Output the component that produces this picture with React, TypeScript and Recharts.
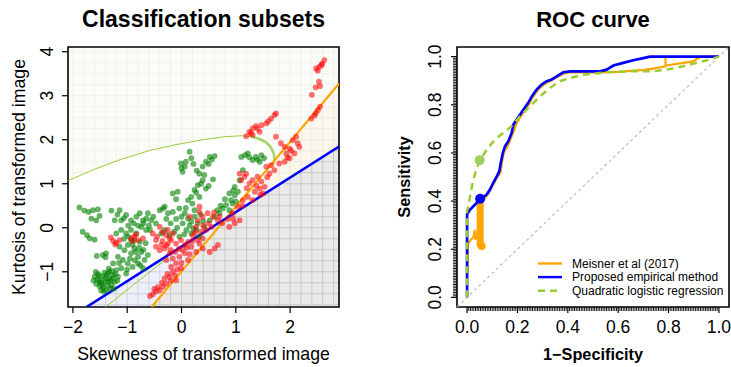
import React from 'react';
import {
  ComposedChart,
  XAxis,
  YAxis,
  Area,
  Line,
  Scatter,
  ReferenceArea,
} from 'recharts';

const FONT = '"Liberation Sans", Arial, Helvetica, sans-serif';

// ---------- left panel: classification subsets ----------
const skewDomain: [number, number] = [-2.09, 2.9];
const kurtDomain: [number, number] = [-1.8, 4.107];
const skewTicks = [-2, -1, 0, 1, 2];
const kurtTicks = [-1, 0, 1, 2, 3, 4];
const gridSkew = Array.from({ length: 25 }, (_, i) => -2 + i * 0.2);
const gridKurt = Array.from({ length: 24 }, (_, i) => -1.75 + i * 0.25);

// [skewness, kurtosis]
const greenPoints: [number, number][] = [
  [-1.88, 0.46], [-1.79, 0.39], [-1.71, 0.36], [-1.63, 0.4], [-1.54, 0.42], [-1.66, 0.21], [-1.57, 0.17], [-1.51, 0.27],
  [-1.82, -0.09], [-1.74, -0.17], [-1.69, -0.24], [-1.6, -0.27], [-1.56, -0.64], [-1.45, -0.62], [-1.4, -0.67], [-1.39, -0.58],
  [-1.6, -1.11], [-1.54, -1.05], [-1.51, -1.19], [-1.45, -1.11], [-1.4, -1.23], [-1.36, -1.04], [-1.33, -1.15], [-1.29, -1.3],
  [-1.26, -1.08], [-1.23, -1.23], [-1.51, -1.33], [-1.44, -1.36], [-1.39, -1.42], [-1.33, -1.0], [-1.2, -0.96], [-1.17, -1.11],
  [-1.57, -1.27], [-1.48, -1.42], [-1.47, -1.25], [-1.36, -1.32], [-1.3, -1.2], [-1.42, -1.02], [-1.55, -1.17], [-1.25, -1.38],
  [-1.62, -1.2], [-1.58, -1.0], [-1.52, -1.08], [-1.46, -1.3], [-1.41, -1.15], [-1.35, -1.22], [-1.31, -1.38], [-1.27, -1.15],
  [-1.22, -1.05], [-1.18, -1.2], [-1.43, -1.45], [-1.5, -1.24], [-1.38, -1.08], [-1.34, -0.93], [-1.28, -0.98],
  [-1.29, 0.39], [-1.14, 0.4], [-1.23, 0.17], [-1.11, 0.17], [-1.02, 0.29], [-0.93, 0.17], [-0.83, 0.25], [-0.77, 0.33],
  [-0.71, 0.17], [-0.65, 0.21], [-0.56, 0.17], [-0.47, 0.1], [-1.2, -0.13], [-1.11, -0.05], [-1.02, -0.13], [-0.93, -0.05],
  [-0.83, -0.13], [-0.74, 0.02], [-0.65, -0.05], [-1.14, -0.43], [-1.05, -0.51], [-0.99, -0.39], [-0.93, -0.58], [-0.87, -0.47],
  [-0.8, -0.66], [-0.74, -0.55], [-0.68, -0.73], [-0.62, -0.62], [-1.08, -0.73], [-0.99, -0.81], [-0.9, -0.89], [-0.8, -0.81],
  [-0.71, -0.92], [-0.93, -0.28], [-0.87, -0.28], [-0.77, -0.32], [-1.17, -0.66], [-1.26, -0.81], [-1.11, -0.92], [-1.02, -1.04],
  [-1.18, 0.3], [-1.06, 0.22], [-0.98, 0.05], [-0.88, 0.1], [-0.8, 0.05], [-0.7, 0.1], [-0.6, 0.05], [-1.06, -0.25],
  [-0.98, -0.2], [-0.9, -0.38], [-0.84, -0.55], [-0.78, -0.45], [-0.7, -0.5], [-0.66, -0.35], [-0.95, -0.7], [-0.86, -0.74],
  [-0.76, -0.85], [-1.0, -0.95], [-1.15, -0.8], [-0.58, -0.05], [-0.52, 0.25], [-0.62, 0.33],
  [-0.4, 0.4], [-0.31, 0.48], [-0.25, 0.33], [-0.16, 0.36], [-0.04, 0.44], [0.06, 0.33], [0.12, 0.21], [0.18, 0.14],
  [0.24, 0.25], [0.3, 0.1], [0.02, 0.1], [0.09, -0.05], [0.18, -0.13], [0.27, -0.05], [0.33, -0.2], [-0.37, -0.13],
  [-0.31, -0.05], [-0.22, -0.17], [-0.13, -0.09], [-0.04, -0.2], [0.42, 0.02], [0.52, 0.17], [0.61, 0.25], [0.7, 0.33],
  [0.76, 0.44], [0.82, 0.52], [0.91, 0.63], [0.98, 0.74], [1.04, 0.82], [0.94, 0.55], [0.88, 0.4],
  [-0.28, 0.2], [-0.2, 0.1], [-0.1, 0.2], [0.0, 0.25], [0.08, 0.45], [0.15, 0.05], [0.22, -0.02], [-0.08, 0.0],
  [0.05, -0.15], [0.24, 0.4], [0.35, 0.3], [0.4, 0.15],
  [-0.01, 1.46], [0.06, 1.39], [0.02, 1.27], [0.15, 1.73], [0.18, 1.58], [0.33, 1.23], [0.39, 1.39], [0.45, 1.5],
  [0.52, 1.61], [0.61, 1.63], [0.39, 1.08], [0.3, 0.97], [0.24, 0.86], [0.18, 0.7], [0.12, 0.63], [0.33, 0.7],
  [0.45, 0.89], [-0.16, 0.78], [-0.07, 0.82], [-0.34, 0.44], [0.08, 1.5], [0.0, 1.35], [0.22, 1.45], [0.28, 1.3],
  [0.42, 1.2], [0.5, 1.45], [0.56, 1.55], [0.36, 1.0], [0.27, 0.8], [0.5, 0.95], [0.58, 1.1], [0.2, 0.55], [-0.1, 0.65],
  [1.1, 1.61], [1.17, 1.65], [1.22, 1.69], [1.37, 1.61], [1.47, 1.65], [1.44, 1.5], [1.31, 1.54], [1.13, 1.31],
  [1.07, 1.08], [0.98, 0.93], [0.88, 0.78], [1.25, 1.6], [1.52, 1.58], [1.4, 1.55], [0.72, 0.5], [0.8, 0.65],
  [0.66, 0.4], [1.0, 0.6], [0.95, 0.85],
];

const redPoints: [number, number][] = [
  [2.63, 3.81], [2.59, 3.73], [2.54, 3.66], [2.51, 3.57], [2.48, 3.62], [2.53, 3.32], [2.55, 3.22], [2.47, 3.19],
  [2.4, 3.02], [2.55, 2.75], [2.51, 2.67], [2.47, 2.6], [2.39, 2.48], [2.58, 3.7], [2.45, 2.55],
  [1.19, 2.08], [1.25, 2.18], [1.31, 2.26], [1.37, 2.31], [1.47, 2.33], [1.56, 2.37], [1.65, 2.48], [1.71, 2.56],
  [1.74, 2.6], [1.31, 2.11], [1.44, 2.18], [1.74, 2.07], [1.6, 2.42], [1.4, 2.25], [1.28, 2.15],
  [1.83, 1.92], [1.9, 1.84], [1.93, 1.69], [1.99, 1.8], [2.05, 1.99], [2.11, 2.07], [2.14, 1.92], [2.17, 1.84],
  [2.08, 1.69], [1.99, 1.58], [1.9, 1.5], [1.8, 1.46], [1.71, 1.31], [1.62, 1.23], [1.56, 1.39], [1.65, 1.42],
  [2.02, 1.75], [1.95, 1.6],
  [1.19, 1.23], [1.16, 1.16], [1.31, 1.08], [1.4, 1.16], [1.47, 1.05], [1.53, 0.93], [1.44, 0.89], [1.35, 0.82],
  [1.25, 1.01], [1.07, 1.23], [1.1, 1.08], [1.22, 0.7], [1.13, 0.63], [1.31, 0.63], [1.5, 0.78], [1.04, 0.48],
  [0.94, 0.33], [1.07, 0.17], [0.98, 0.1], [0.88, 0.02], [1.58, 1.15], [1.38, 0.95], [1.2, 0.9], [1.45, 0.75], [1.12, 0.5],
  [0.33, 0.36], [0.39, 0.25], [0.48, 0.33], [0.58, 0.25], [0.67, 0.17], [0.3, 0.17], [0.27, 0.02], [0.36, -0.09],
  [0.45, -0.05], [0.55, 0.02], [0.21, -0.17], [0.3, -0.28], [0.39, -0.24], [0.18, -0.43], [0.27, -0.55], [0.12, -0.32],
  [0.52, -0.55], [0.61, -0.47], [0.67, -0.39], [0.39, -0.47], [0.33, -0.36], [0.6, 0.35], [0.7, 0.25], [0.75, 0.1],
  [0.85, 0.2], [0.95, 0.2], [0.4, 0.05], [0.5, 0.1], [0.2, -0.3], [0.25, -0.1],
  [-0.53, -0.13], [-0.47, -0.28], [-0.37, -0.39], [-0.31, -0.47], [-0.25, -0.36], [-0.19, -0.28], [-0.1, -0.36], [-0.01, -0.28],
  [0.06, -0.39], [-0.22, -0.58], [-0.16, -0.7], [-0.28, -0.73], [-0.1, -0.81], [-0.04, -0.66], [0.06, -0.58], [-0.01, -0.92],
  [-0.16, -1.0], [-0.22, -1.11], [-0.1, -1.19], [-0.28, -1.27], [-0.34, -1.34], [-0.4, -1.42], [-0.47, -1.45], [-0.53, -1.51],
  [-0.5, -1.39], [-0.31, -1.15], [-0.19, -0.89], [0.12, -0.73], [-0.4, -0.51], [-0.47, -0.43],
  [-0.45, -0.2], [-0.35, -0.3], [-0.28, -0.4], [-0.2, -0.5], [-0.12, -0.55], [-0.05, -0.48], [0.02, -0.5], [0.1, -0.45],
  [0.15, -0.6], [-0.08, -0.95], [-0.2, -1.2], [-0.26, -1.05], [-0.36, -1.25], [-0.44, -1.35], [-0.58, -1.55], [-0.12, -1.08],
  [0.0, -0.8],
  [-1.26, -0.3], [-1.2, -0.34], [-1.14, -0.28], [-0.93, -0.24], [-0.87, -0.2], [-0.8, -0.28], [-0.71, -0.24], [-0.28, -0.17],
  [-0.22, -0.24], [-0.16, -0.13], [-0.4, 0.02], [0.33, 0.48], [0.15, 0.25], [-1.3, -0.22], [-1.22, -0.38], [-0.9, -0.3],
  [-0.84, -0.15], [-0.35, -0.1], [-0.25, -0.05],
];

// decision regions as [skewness, low, high]
const quadOutside: [number, number, number][] = [
  [-2.09, 1.07, 4.107], [-1.6, 1.33, 4.107], [-1.1, 1.56, 4.107], [-0.6, 1.75, 4.107], [-0.1, 1.89, 4.107],
  [0.4, 2.0, 4.107], [0.8, 2.07, 4.107], [1.1, 2.09, 4.107], [1.3, 2.07, 4.107], [1.45, 2.01, 4.107],
  [1.57, 1.93, 4.107], [1.65, 1.82, 4.107], [1.7, 1.68, 4.107], [1.71, 1.53, 4.107], [2.9, 3.28, 4.107],
];
const quadInside: [number, number, number][] = [
  [-2.09, -1.8, 1.07], [-1.75, -1.8, 1.25], [-1.6, -1.68, 1.33], [-1.1, -1.29, 1.56], [-0.6, -0.9, 1.75],
  [-0.1, -0.51, 1.89], [0.4, -0.11, 2.0], [0.8, 0.2, 2.07], [0.817, 0.212, 2.072], [1.1, 0.63, 2.09],
  [1.3, 0.92, 2.07], [1.45, 1.14, 2.01], [1.57, 1.32, 1.93], [1.65, 1.44, 1.82], [1.7, 1.51, 1.68], [1.71, 1.527, 1.53],
];
const empiricalOnly: [number, number, number][] = [[-1.75, -1.8, -1.8], [-0.55, -1.8, -0.86], [0.817, 0.212, 0.212]];
const bothRules: [number, number, number][] = [[-0.55, -1.8, -1.8], [0.817, -1.8, 0.212], [2.9, -1.8, 1.846]];
const meisnerOnly: [number, number, number][] = [[0.817, 0.212, 0.212], [2.9, 1.846, 3.278]];

const empiricalLine: [number, number][] = [[-1.75, -1.8], [2.9, 1.846]];
const meisnerLine: [number, number][] = [[-0.55, -1.8], [2.9, 3.278]];
const quadUpper: [number, number][] = [
  [-2.09, 1.07], [-1.6, 1.33], [-1.1, 1.56], [-0.6, 1.75], [-0.1, 1.89], [0.4, 2.0], [0.8, 2.07], [1.1, 2.09], [1.3, 2.07],
];
const quadBend: [number, number][] = [
  [1.3, 2.07], [1.45, 2.01], [1.57, 1.93], [1.65, 1.82], [1.7, 1.68], [1.71, 1.55], [1.69, 1.45],
];
const quadLower: [number, number][] = [[-1.4, -1.8], [-0.25, -0.68]];

// ---------- right panel: ROC ----------
const rocDomain: [number, number] = [-0.04, 1.04];
const rocTickLabels = ['0.0', '0.2', '0.4', '0.6', '0.8', '1.0'];
const rocRug = Array.from({ length: 151 }, (_, i) => i / 150);

// [1 - specificity, sensitivity]
const meisnerRoc: [number, number][] = [
  [0.003, 0.1], [0.003, 0.22], [0.015, 0.24], [0.025, 0.25], [0.03, 0.28], [0.033, 0.24], [0.04, 0.26], [0.05, 0.33],
  [0.055, 0.39], [0.065, 0.405], [0.08, 0.425], [0.095, 0.45], [0.105, 0.47], [0.12, 0.5], [0.132, 0.515], [0.14, 0.57],
  [0.148, 0.61], [0.16, 0.625], [0.172, 0.655], [0.185, 0.69], [0.195, 0.72], [0.21, 0.745], [0.225, 0.77], [0.245, 0.8],
  [0.26, 0.83], [0.28, 0.86], [0.3, 0.88], [0.315, 0.89], [0.34, 0.905], [0.38, 0.928], [0.41, 0.935], [0.5, 0.935],
  [0.6, 0.937], [0.7, 0.945], [0.74, 0.95], [0.788, 0.96], [0.788, 1.0], [0.788, 0.963], [0.845, 0.972], [0.898, 0.98],
  [0.918, 0.994], [0.93, 1.0], [1.0, 1.0],
];
const empiricalRoc: [number, number][] = [
  [0, 0], [0, 0.345], [0.012, 0.365], [0.032, 0.386], [0.052, 0.407], [0.078, 0.427], [0.091, 0.448], [0.104, 0.476],
  [0.118, 0.503], [0.128, 0.524], [0.134, 0.559], [0.142, 0.6], [0.151, 0.628], [0.164, 0.649], [0.177, 0.683],
  [0.184, 0.718], [0.197, 0.739], [0.21, 0.759], [0.224, 0.78], [0.243, 0.808], [0.257, 0.835], [0.276, 0.863],
  [0.296, 0.884], [0.316, 0.898], [0.336, 0.905], [0.356, 0.918], [0.382, 0.935], [0.409, 0.939], [0.528, 0.939],
  [0.554, 0.946], [0.581, 0.963], [0.62, 0.974], [0.66, 0.985], [0.7, 0.994], [0.726, 1.0], [1.0, 1.0],
];
const quadraticRoc: [number, number][] = [
  [0, 0], [0, 0.36], [0.005, 0.379], [0.012, 0.42], [0.022, 0.476], [0.036, 0.531], [0.052, 0.57], [0.078, 0.614],
  [0.111, 0.656], [0.144, 0.683], [0.177, 0.711], [0.21, 0.752], [0.25, 0.794], [0.29, 0.835], [0.329, 0.87],
  [0.369, 0.898], [0.409, 0.911], [0.462, 0.925], [0.554, 0.935], [0.647, 0.939], [0.739, 0.939], [0.792, 0.946],
  [0.845, 0.957], [0.911, 0.974], [0.964, 0.988], [1.0, 1.0],
];
const meisnerBand: [number, number][] = [[0.052, 0.21], [0.052, 0.395]];
const diagonal: [number, number][] = [[-0.04, -0.04], [1.04, 1.04]];
const meisnerPoint: [number, number][] = [[0.058, 0.213]];
const empiricalPoint: [number, number][] = [[0.052, 0.41]];
const quadraticPoint: [number, number][] = [[0.05, 0.57]];

const ORANGE = '#FFA500';
const BLUE = '#0000FF';
const YGREEN = '#9ACD32';

const legendItems = [
  { label: 'Meisner et al (2017)', color: ORANGE, dash: undefined as string | undefined },
  { label: 'Proposed empirical method', color: BLUE, dash: undefined as string | undefined },
  { label: 'Quadratic logistic regression', color: YGREEN, dash: '7 5' },
];

const pts = (a: [number, number][]) => a.map(([x, y]) => ({ x, y }));
const rng = (a: [number, number, number][]) => a.map(([x, lo, hi]) => ({ x, r: [lo, hi] }));
const signed = (v: number) => (v < 0 ? `\u2212${Math.abs(v)}` : `${v}`);

// hairline grid strips (about one pixel wide), drawn as areas so they sit under the shaded regions
const vStrip = (v: number) => [{ x: v - 0.009, r: kurtDomain }, { x: v + 0.009, r: kurtDomain }];
const hStrip = (v: number) => [{ x: skewDomain[0], r: [v - 0.011, v + 0.011] }, { x: skewDomain[1], r: [v - 0.011, v + 0.011] }];

const SkewTick = (props: any) => {
  const { x, y, payload } = props;
  return (
    <g>
      <line x1={x} x2={x} y1={y} y2={y + 6} stroke="#000" strokeWidth={1.2} />
      <text x={x} y={y + 26} textAnchor="middle" fontSize={17.5} fontFamily={FONT} fill="#000">
        {signed(payload.value)}
      </text>
    </g>
  );
};

const KurtTick = (props: any) => {
  const { x, y, payload } = props;
  return (
    <g>
      <line x1={x - 6} x2={x} y1={y} y2={y} stroke="#000" strokeWidth={1.2} />
      <text x={x - 15} y={y} transform={`rotate(-90 ${x - 15} ${y})`} textAnchor="middle"
        fontSize={17.5} fontFamily={FONT} fill="#000">
        {signed(payload.value)}
      </text>
    </g>
  );
};

const isMajor = (v: number) => Math.abs(v * 5 - Math.round(v * 5)) < 1e-9;

const RocXTick = (props: any) => {
  const { x, y, payload } = props;
  const v = payload.value as number;
  if (!isMajor(v)) {
    return (
      <g>
        <line x1={x} x2={x} y1={y} y2={y + 4} stroke="#000" strokeWidth={0.9} />
      </g>
    );
  }
  return (
    <g>
      <line x1={x} x2={x} y1={y} y2={y + 6} stroke="#000" strokeWidth={1.2} />
      <text x={x} y={y + 26} textAnchor="middle" fontSize={17.5} fontFamily={FONT} fill="#000">
        {rocTickLabels[Math.round(v * 5)]}
      </text>
    </g>
  );
};

const RocYTick = (props: any) => {
  const { x, y, payload } = props;
  const v = payload.value as number;
  if (!isMajor(v)) {
    return (
      <g>
        <line x1={x - 4} x2={x} y1={y} y2={y} stroke="#000" strokeWidth={0.9} />
      </g>
    );
  }
  return (
    <g>
      <line x1={x - 6} x2={x} y1={y} y2={y} stroke="#000" strokeWidth={1.2} />
      <text x={x - 15.5} y={y} transform={`rotate(-90 ${x - 15.5} ${y})`} textAnchor="middle"
        fontSize={17.5} fontFamily={FONT} fill="#000">
        {rocTickLabels[Math.round(v * 5)]}
      </text>
    </g>
  );
};

const dot = (r: number, color: string, opacity = 1) => (p: any) => (
  <circle cx={p.cx} cy={p.cy} r={r} fill={color} fillOpacity={opacity} />
);

const gridFill = '#a8a8a8';

const ClassificationChart = () => (
  <ComposedChart width={365} height={367} margin={{ top: 47, right: 26, bottom: 0, left: 0 }}>
    <XAxis type="number" dataKey="x" domain={skewDomain} ticks={skewTicks} allowDataOverflow interval={0}
      height={60} axisLine={false} tickLine={false} tickSize={0} tickMargin={0} tick={<SkewTick />} />
    <YAxis type="number" dataKey="y" domain={kurtDomain} ticks={kurtTicks} allowDataOverflow interval={0}
      width={68} axisLine={false} tickLine={false} tickSize={0} tickMargin={0} tick={<KurtTick />} />

    {gridSkew.map((v) => (
      <Area key={`gx${v}`} data={vStrip(v)} dataKey="r" type="linear" stroke="none" fill={gridFill}
        fillOpacity={1} activeDot={false} isAnimationActive={false} />
    ))}
    {gridKurt.map((v) => (
      <Area key={`gy${v}`} data={hStrip(v)} dataKey="r" type="linear" stroke="none" fill={gridFill}
        fillOpacity={1} activeDot={false} isAnimationActive={false} />
    ))}

    <Area data={rng(quadOutside)} dataKey="r" type="linear" stroke="none" fill="#fbfcf6" fillOpacity={0.88} isAnimationActive={false} />
    <Area data={rng(quadInside)} dataKey="r" type="linear" stroke="none" fill="#ffffff" fillOpacity={1} isAnimationActive={false} />
    <Area data={rng(empiricalOnly)} dataKey="r" type="linear" stroke="none" fill="#e3e6f7" fillOpacity={0.66} isAnimationActive={false} />
    <Area data={rng(bothRules)} dataKey="r" type="linear" stroke="none" fill="#dcdcd9" fillOpacity={0.62} isAnimationActive={false} />
    <Area data={rng(meisnerOnly)} dataKey="r" type="linear" stroke="none" fill="#faf6ea" fillOpacity={0.86} isAnimationActive={false} />

    <Scatter data={pts(greenPoints)} dataKey="y" shape={dot(2.9, '#008000', 0.6)} isAnimationActive={false} />
    <Scatter data={pts(redPoints)} dataKey="y" shape={dot(2.9, '#ff0000', 0.56)} isAnimationActive={false} />

    <Line data={pts(quadUpper)} dataKey="y" type="linear" stroke={YGREEN} strokeWidth={1} dot={false} isAnimationActive={false} />
    <Line data={pts(quadBend)} dataKey="y" type="linear" stroke="#a6d46a" strokeWidth={2.6} dot={false} isAnimationActive={false} />
    <Line data={pts(quadLower)} dataKey="y" type="linear" stroke={YGREEN} strokeWidth={1} dot={false} isAnimationActive={false} />
    <Line data={pts(meisnerLine)} dataKey="y" type="linear" stroke={ORANGE} strokeWidth={2.2} dot={false} isAnimationActive={false} />
    <Line data={pts(empiricalLine)} dataKey="y" type="linear" stroke={BLUE} strokeWidth={2.6} dot={false} isAnimationActive={false} />

    <ReferenceArea x1={skewDomain[0]} x2={skewDomain[1]} y1={kurtDomain[0]} y2={kurtDomain[1]}
      fill="none" stroke="#000" strokeWidth={1.6} fillOpacity={0} />
  </ComposedChart>
);

const RocChart = () => (
  <ComposedChart width={366} height={367} margin={{ top: 47, right: 2, bottom: 0, left: 0 }}>
    <XAxis type="number" dataKey="x" domain={rocDomain} ticks={rocRug} allowDataOverflow interval={0}
      height={60} axisLine={false} tickLine={false} tickSize={0} tickMargin={0} tick={<RocXTick />} />
    <YAxis type="number" dataKey="y" domain={rocDomain} ticks={rocRug} allowDataOverflow interval={0}
      width={92} axisLine={false} tickLine={false} tickSize={0} tickMargin={0} tick={<RocYTick />} />

    <Line data={pts(diagonal)} dataKey="y" type="linear" stroke="#bdbdbd" strokeWidth={1.2} strokeDasharray="3 3" dot={false} isAnimationActive={false} />
    <Line data={pts(meisnerBand)} dataKey="y" type="linear" stroke={ORANGE} strokeWidth={7} dot={false} isAnimationActive={false} />
    <Line data={pts(meisnerRoc)} dataKey="y" type="linear" stroke={ORANGE} strokeWidth={2.2} dot={false} isAnimationActive={false} />
    <Line data={pts(empiricalRoc)} dataKey="y" type="linear" stroke={BLUE} strokeWidth={2.7} dot={false} isAnimationActive={false} />
    <Line data={pts(quadraticRoc)} dataKey="y" type="linear" stroke={YGREEN} strokeWidth={2.5} strokeDasharray="7 5" dot={false} isAnimationActive={false} />

    <Scatter data={pts(meisnerPoint)} dataKey="y" shape={dot(4, ORANGE)} isAnimationActive={false} />
    <Scatter data={pts(empiricalPoint)} dataKey="y" shape={dot(5, BLUE)} isAnimationActive={false} />
    <Scatter data={pts(quadraticPoint)} dataKey="y" shape={dot(5, '#9fcf5f')} isAnimationActive={false} />

    <ReferenceArea x1={rocDomain[0]} x2={rocDomain[1]} y1={rocDomain[0]} y2={rocDomain[1]}
      fill="none" stroke="#000" strokeWidth={1.6} fillOpacity={0} />
  </ComposedChart>
);

export default function App() {
  return (
    <div style={{ position: 'absolute', left: 0, top: 0, width: 731, height: 367, background: '#fff', overflow: 'hidden' }}>
      <div style={{ position: 'absolute', left: 0, top: 0 }}>
        <ClassificationChart />
      </div>
      <div style={{ position: 'absolute', left: 365, top: 0 }}>
        <RocChart />
      </div>
      <svg width={731} height={367} style={{ position: 'absolute', left: 0, top: 0, pointerEvents: 'none' }}
        fontFamily={FONT}>
        <text x={203.5} y={27} textAnchor="middle" fontSize={23} fontWeight="bold">Classification subsets</text>
        <text x={593} y={27} textAnchor="middle" fontSize={22} fontWeight="bold">ROC curve</text>
        <text x={203.5} y={360} textAnchor="middle" fontSize={17.7}>Skewness of transformed image</text>
        <text x={24.5} y={177} transform="rotate(-90 24.5 177)" textAnchor="middle" fontSize={17.7}>
          Kurtosis of transformed image
        </text>
        <text x={593} y={360} textAnchor="middle" fontSize={16.3} fontWeight="bold">1{'\u2212'}Specificity</text>
        <text x={409.5} y={177} transform="rotate(-90 409.5 177)" textAnchor="middle" fontSize={16.3} fontWeight="bold">
          Sensitivity
        </text>
        {legendItems.map((item, i) => (
          <g key={item.label}>
            <line x1={538} x2={562} y1={263.5 + i * 13.6} y2={263.5 + i * 13.6} stroke={item.color}
              strokeWidth={2.4} strokeDasharray={item.dash} />
            <text x={572} y={267.8 + i * 13.6} fontSize={12} fill="#000">{item.label}</text>
          </g>
        ))}
      </svg>
    </div>
  );
}
